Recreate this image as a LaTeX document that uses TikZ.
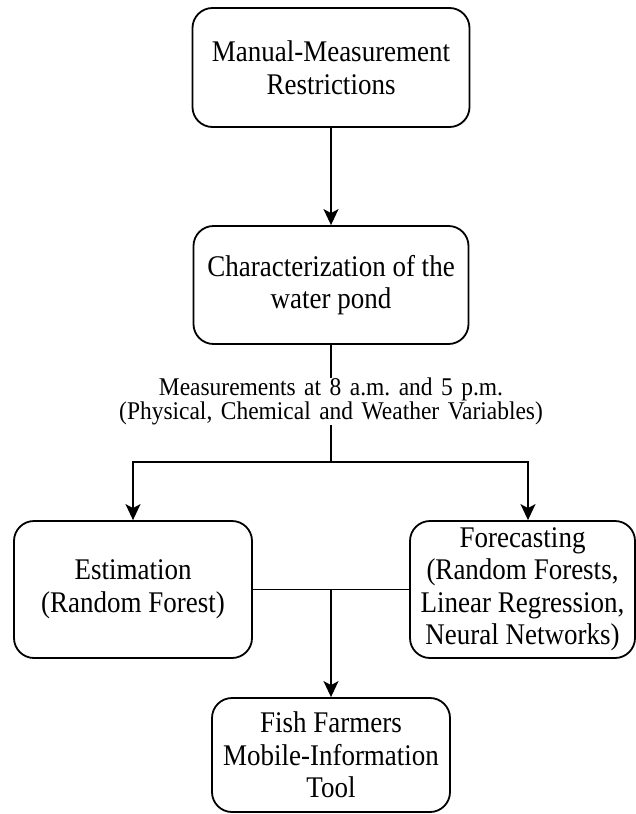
\documentclass[tikz,border=0pt]{standalone}
\usepackage{fontspec}
\setmainfont{Liberation Serif}
\newfontfamily\condserif[FakeStretch=0.9]{Liberation Serif}
\newfontfamily\lblserif[FakeStretch=0.92,WordSpace=0.75]{Liberation Serif}
\usetikzlibrary{arrows.meta}
\frenchspacing
\begin{document}
\begin{tikzpicture}[x=1pt,y=1pt,
  box/.style={draw, line width=1.8pt, rounded corners=20pt, align=center, inner sep=0pt,
    font=\condserif\fontsize{30}{32.5}\selectfont},
  conn/.style={line width=1.8pt},
  arr/.style={line width=1.8pt, -{Stealth[length=16pt,width=15pt,inset=4pt]}},
  lbl/.style={align=center, inner sep=0pt, minimum height=47pt, text width=440pt,
    font=\lblserif\fontsize{25.5}{23.5}\selectfont}]
\useasboundingbox (0,0) rectangle (636,-814);
\node[box, minimum width=277pt, minimum height=119pt] (mm) at (331,-67.5)
  {Manual-Measurement\\Restrictions};
\node[box, minimum width=275pt, minimum height=118pt] (ch) at (331,-285)
  {Characterization of the\\water pond};
\node[lbl] (meas) at (331,-401.5)
  {Measurements at 8 a.m. and 5 p.m.\\(Physical, Chemical and Weather Variables)};
\coordinate (split) at (331,-462);
\node[box, minimum width=238pt, minimum height=137pt] (est) at (133,-589.5)
  {Estimation\\(Random Forest)};
\node[box, minimum width=225pt, minimum height=137pt] (fc) at (522.5,-589.5)
  {Forecasting\\(Random Forests,\\Linear Regression,\\Neural Networks)};
\node[box, minimum width=238pt, minimum height=114pt] (fish) at (331,-755)
  {Fish Farmers\\Mobile-Information\\Tool};
\coordinate (join) at (331,-589.5);

\draw[arr] (mm.south) -- (ch.north);
\draw[conn] (ch.south) -- (meas.north);
\draw[conn] (meas.south) -- (split);
\draw[arr] (split) -| (est.north);
\draw[arr] (split) -| ([xshift=5.5pt]fc.north);
\draw[conn] (est.east) -- (fc.west);
\draw[arr] (join) -- (fish.north);
\end{tikzpicture}
\end{document}
